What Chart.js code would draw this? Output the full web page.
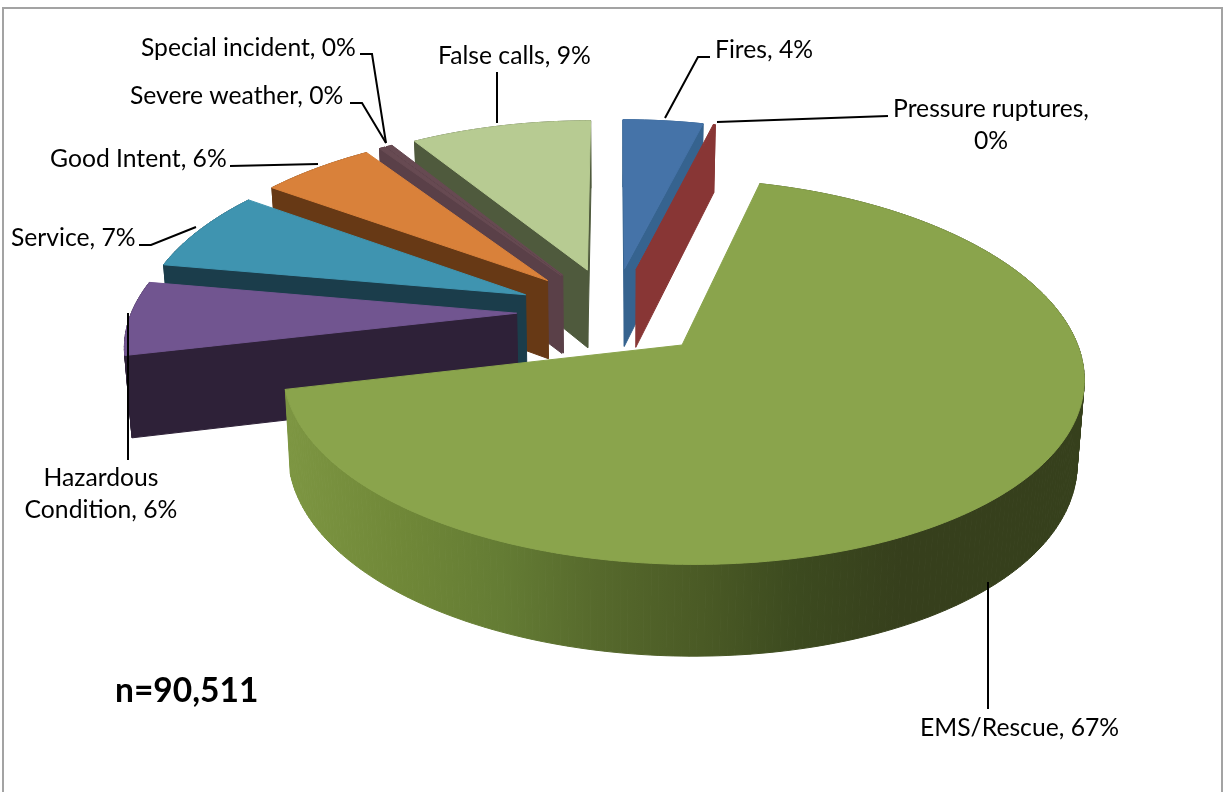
<!DOCTYPE html>
<html>
<head>
<meta charset="utf-8">
<style>
    html, body { margin: 0; padding: 0; background: #fff; overflow: hidden; }
    canvas { display: block; }
</style>
<script src="https://cdn.jsdelivr.net/npm/chart.js@4"></script>
</head>
<body>
<canvas id="pie" width="1225" height="792"></canvas>
<script>
    // data (labels only show the rounded percent)
    const categories = ["Fires", "Pressure ruptures", "EMS/Rescue", "Hazardous Condition", "Service", "Good Intent", "Severe weather", "Special incident", "False calls"]
    const shares = [3.95, 0.1, 67.3, 6.45, 7.1, 5.6, 0.3, 0.3, 8.9]
    const labelText = ["Fires, 4%", "Pressure ruptures,\n0%", "EMS/Rescue, 67%", "Hazardous\nCondition, 6%", "Service, 7%", "Good Intent, 6%", "Severe weather, 0%", "Special incident, 0%", "False calls, 9%"]
    const sampleNote = "n=90,511"

    const topColors = ["#4573a8", "#8a3635", "#8aa44c", "#715590", "#3f94b0", "#d9813a", "#674a52", "#674a52", "#b7cb92"]
    const wallColors = ["#36638f", "#883635", "#5f7636", "#2e2138", "#1b3d4b", "#673915", "#5a4048", "#5a4048", "#4f5a3d"]

    // back slices first, the big one last
    const drawOrder = [8, 7, 6, 5, 4, 3, 0, 1, 2]

    // text anchor + leader line for each slice, same order as categories
    const labelLayout = [
        {x: 715, y: 58, align: "left", leader: [[665, 118], [698, 57], [710, 57]]},
        {x: 991, y: 117, align: "center", leader: [[717, 122], [888, 116]]},
        {x: 920, y: 736, align: "left", leader: [[988, 582], [988, 709]]},
        {x: 101, y: 486, align: "center", leader: [[128, 313], [128, 460]]},
        {x: 11, y: 246, align: "left", leader: [[139, 245], [151, 245], [196, 227]]},
        {x: 50, y: 167, align: "left", leader: [[230, 166], [318, 164]]},
        {x: 130, y: 104, align: "left", leader: [[350, 103], [362, 103], [386, 143]]},
        {x: 141, y: 56, align: "left", leader: [[360, 54], [372, 54], [386, 143]]},
        {x: 438, y: 64, align: "left", leader: [[497, 72], [497, 123]]}
    ]

    // perspective of the tilted disc, fitted by eye to the picture
    const centerX = 613
    const centerY = 312
    const scaleX = 385
    const scaleY = 180
    const perspX = 0.15
    const perspY = 0.135

    function project(u, v, low) {
        let x = centerX + scaleX * u / (1 - perspX * v)
        let y = centerY + scaleY * v / (1 - perspY * v)
        if (low) {
            x = centerX + (x - centerX) * 0.985
            y += 80 + 10 * v
        }
        return [x, y]
    }

    function fillPoly(ctx, pts, color) {
        ctx.beginPath()
        pts.forEach((p, i) => i ? ctx.lineTo(p[0], p[1]) : ctx.moveTo(p[0], p[1]))
        ctx.closePath()
        ctx.fillStyle = color
        ctx.strokeStyle = color
        ctx.lineWidth = 1
        ctx.fill()
        ctx.stroke()
    }

    function emsWallGradient(ctx) {
        const g = ctx.createLinearGradient(287, 0, 1085, 0)
        g.addColorStop(0, "#7d9642")
        g.addColorStop(0.14, "#708838")
        g.addColorStop(0.27, "#647c34")
        g.addColorStop(0.39, "#56692c")
        g.addColorStop(0.52, "#4a5a25")
        g.addColorStop(0.64, "#3c4a1f")
        g.addColorStop(0.77, "#363f1c")
        g.addColorStop(1, "#36401c")
        return g
    }

    function drawSlice(ctx, arc, i) {
        const mid = (arc.startAngle + arc.endAngle) / 2
        const explode = arc.options.offset / 400
        const ox = explode * Math.cos(mid)
        const oy = explode * Math.sin(mid)
        const rimAt = (a, low) => project(ox + Math.cos(a), oy + Math.sin(a), low)

        const steps = Math.max(2, Math.ceil((arc.endAngle - arc.startAngle) * 60))
        const rimTop = []
        const rimLow = []
        for (let s = 0; s <= steps; s++) {
            const a = arc.startAngle + (arc.endAngle - arc.startAngle) * s / steps
            rimTop.push(rimAt(a, false))
            rimLow.push(rimAt(a, true))
        }
        const apex = project(ox, oy, false)
        const apexLow = project(ox, oy, true)
        const midTop = rimAt(mid, false)

        // outer wall as small quads so the sides of the silhouette get filled too
        const wall = categories[i] === "EMS/Rescue" ? emsWallGradient(ctx) : wallColors[i]
        for (let s = 0; s < steps; s++) {
            fillPoly(ctx, [rimTop[s], rimTop[s + 1], rimLow[s + 1], rimLow[s]], wall)
        }

        // cut faces, only the ones turned towards the viewer
        ;[arc.startAngle, arc.endAngle].forEach(a => {
            const q = rimAt(a, false)
            let nx = -(q[1] - apex[1])
            let ny = q[0] - apex[0]
            if (ny < 0) { nx = -nx; ny = -ny }
            if ((midTop[0] - apex[0]) * nx + (midTop[1] - apex[1]) * ny < 0) {
                fillPoly(ctx, [apex, q, rimAt(a, true), apexLow], wallColors[i])
            }
        })

        fillPoly(ctx, [apex].concat(rimTop), topColors[i])
    }

    const pie3d = {
        id: "pie3d",
        beforeDraw(chart) {
            const ctx = chart.ctx
            ctx.save()
            ctx.fillStyle = "#fff"
            ctx.fillRect(0, 0, chart.width, chart.height)
            ctx.strokeStyle = "#a3a3a3"
            ctx.lineWidth = 2
            ctx.strokeRect(3, 8, 1219, 800)
            ctx.restore()
        },
        beforeDatasetDraw(chart, args) {
            const ctx = chart.ctx
            const arcs = chart.getDatasetMeta(args.index).data
            ctx.save()
            drawOrder.forEach(i => drawSlice(ctx, arcs[i], i))
            ctx.restore()
            return false
        },
        afterDatasetsDraw(chart) {
            const ctx = chart.ctx
            ctx.save()
            ctx.strokeStyle = "#000"
            ctx.lineWidth = 2
            ctx.fillStyle = "#000"
            ctx.font = "24.7px Lato"
            ctx.textBaseline = "alphabetic"
            labelLayout.forEach((l, i) => {
                ctx.beginPath()
                l.leader.forEach((p, k) => k ? ctx.lineTo(p[0], p[1]) : ctx.moveTo(p[0], p[1]))
                ctx.stroke()
                ctx.textAlign = l.align
                labelText[i].split("\n").forEach((line, k) => ctx.fillText(line, l.x, l.y + k * 32))
            })
            ctx.textAlign = "left"
            ctx.font = "bold 33.5px Lato"
            ctx.fillText(sampleNote, 115, 702)
            ctx.restore()
        }
    }

    new Chart(document.getElementById("pie").getContext("2d"), {
        type: "pie",
        data: {
            labels: categories,
            datasets: [{
                data: shares,
                backgroundColor: topColors,
                offset: 100,
                borderWidth: 0
            }]
        },
        options: {
            responsive: false,
            animation: false,
            plugins: {
                legend: {display: false},
                tooltip: {enabled: false}
            }
        },
        plugins: [pie3d]
    })
</script>
</body>
</html>
